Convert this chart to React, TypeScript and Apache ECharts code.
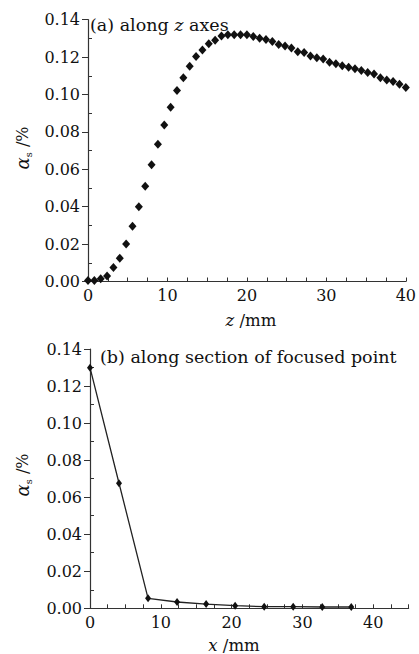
import React, { useEffect, useRef } from "react";
import * as echarts from "echarts";

// (a) along z axes
const zPos = [0, 0.8, 1.6, 2.4, 3.2, 4, 4.8, 5.6, 6.4, 7.2, 8, 8.8, 9.6, 10.4, 11.2, 12, 12.8, 13.6, 14.4, 15.2, 16, 16.8, 17.6, 18.4, 19.2, 20, 20.8, 21.6, 22.4, 23.2, 24, 24.8, 25.6, 26.4, 27.2, 28, 28.8, 29.6, 30.4, 31.2, 32, 32.8, 33.6, 34.4, 35.2, 36, 36.8, 37.6, 38.4, 39.2, 40];
const alphaZ = [0.0005, 0.0006, 0.0015, 0.003, 0.0075, 0.0125, 0.02, 0.0295, 0.04, 0.051, 0.0625, 0.0734, 0.0837, 0.0932, 0.1021, 0.1089, 0.1151, 0.1203, 0.1238, 0.1271, 0.129, 0.1313, 0.1319, 0.1319, 0.1319, 0.1319, 0.131, 0.1301, 0.1294, 0.1283, 0.1267, 0.126, 0.1248, 0.1229, 0.1224, 0.1206, 0.1197, 0.119, 0.1173, 0.1164, 0.1154, 0.1146, 0.1138, 0.1128, 0.1117, 0.111, 0.109, 0.1078, 0.1069, 0.1055, 0.1037];

// (b) along section of focused point
const xPos = [0, 4.1, 8.2, 12.3, 16.4, 20.5, 24.6, 28.7, 32.8, 36.9];
const alphaX = [0.1299, 0.0675, 0.0054, 0.0034, 0.0023, 0.0014, 0.0009, 0.0009, 0.0007, 0.0007];

const yTicksMax = 0.14;
const yInterval = 0.02;
const topXMax = 40;
const bottomXMax = 45;

const FONT = "DejaVu Serif";
const INK = "#111";
const AXIS = "#333";

function xAxisCfg(gridIndex: number, max: number) {
  return {
    type: "value",
    gridIndex,
    min: 0,
    max,
    interval: 2.5,
    axisLine: { show: true, onZero: false, lineStyle: { color: AXIS, width: 1.2 } },
    axisTick: { show: true, inside: true, length: 4, lineStyle: { color: AXIS } },
    axisLabel: {
      margin: 6,
      fontFamily: FONT,
      fontSize: 16,
      color: INK,
      showMaxLabel: true,
      formatter: (v: number) => (Math.abs(v % 10) < 1e-9 ? String(v) : ""),
    },
    splitLine: { show: false },
  };
}

function yAxisMain(gridIndex: number) {
  return {
    type: "value",
    gridIndex,
    position: "left",
    min: 0,
    max: yTicksMax,
    interval: yInterval,
    axisLine: { show: true, onZero: false, lineStyle: { color: AXIS, width: 1.2 } },
    axisTick: { show: true, inside: false, length: 6, lineStyle: { color: AXIS } },
    axisLabel: {
      margin: 8,
      fontFamily: FONT,
      fontSize: 16,
      color: INK,
      formatter: (v: number) => v.toFixed(2),
    },
    splitLine: { show: false },
  };
}

function yAxisMinor(gridIndex: number) {
  return {
    type: "value",
    gridIndex,
    position: "left",
    min: 0,
    max: yTicksMax,
    interval: yInterval,
    axisLine: { show: false },
    axisTick: { show: false, inside: true },
    minorTick: { show: true, splitNumber: 2, length: 4, lineStyle: { color: AXIS } },
    axisLabel: { show: false },
    splitLine: { show: false },
  };
}

function yName(x: number, y: number) {
  return {
    type: "text",
    x,
    y,
    rotation: Math.PI / 2,
    style: {
      text: "{a|α}{s|s} /%",
      fontFamily: FONT,
      fontSize: 16,
      fill: INK,
      align: "center",
      verticalAlign: "middle",
      rich: {
        a: { fontFamily: FONT, fontStyle: "italic", fontSize: 18, fill: INK, lineHeight: 22 },
        s: { fontFamily: FONT, fontSize: 10, fill: INK, verticalAlign: "bottom", lineHeight: 22 },
      },
    },
  };
}

function richText(x: number, y: number, text: string, align: string, size: number) {
  return {
    type: "text",
    x,
    y,
    style: {
      text,
      fontFamily: FONT,
      fontSize: size,
      fill: INK,
      align,
      verticalAlign: "middle",
      rich: {
        i: { fontFamily: FONT, fontStyle: "italic", fontSize: size, fill: INK },
        n: { fontFamily: FONT, fontSize: size, fill: INK },
      },
    },
  };
}

export default function App() {
  const ref = useRef<HTMLDivElement>(null);
  useEffect(() => {
    if (!ref.current) return;
    const chart = echarts.init(ref.current, null, { renderer: "svg" });
    chart.setOption({
      animation: false,
      backgroundColor: "#ffffff",
      grid: [
        { left: 88, top: 19.7, width: 321, height: 261.8, containLabel: false },
        { left: 90, top: 349, width: 318.6, height: 259.3, containLabel: false },
      ],
      xAxis: [xAxisCfg(0, topXMax), xAxisCfg(1, bottomXMax)],
      yAxis: [yAxisMain(0), yAxisMinor(0), yAxisMain(1), yAxisMinor(1)],
      series: [
        {
          type: "scatter",
          xAxisIndex: 0,
          yAxisIndex: 0,
          symbol: "diamond",
          symbolSize: [8, 9],
          itemStyle: { color: "#111", opacity: 1 },
          data: zPos.map((z, i) => [z, alphaZ[i]]),
          silent: true,
        },
        {
          type: "line",
          xAxisIndex: 1,
          yAxisIndex: 2,
          symbol: "diamond",
          symbolSize: [6, 8],
          showSymbol: true,
          itemStyle: { color: "#111", opacity: 1 },
          lineStyle: { color: "#222", width: 1.3 },
          data: xPos.map((x, i) => [x, alphaX[i]]),
          silent: true,
        },
      ],
      graphic: [
        richText(90, 25, "{n|(a) along }{i|z}{n| axes}", "left", 17.5),
        richText(100, 357, "{n|(b) along section of focused point}", "left", 17.5),
        richText(251, 320, "{i|z}{n| /mm}", "center", 16.5),
        richText(234, 645, "{i|x}{n| /mm}", "center", 16.5),
        yName(22, 148),
        yName(22, 475),
      ],
    });
    return () => chart.dispose();
  }, []);
  return (
    <div
      ref={ref}
      style={{ position: "fixed", left: 0, top: 0, width: 419, height: 654 }}
    />
  );
}
